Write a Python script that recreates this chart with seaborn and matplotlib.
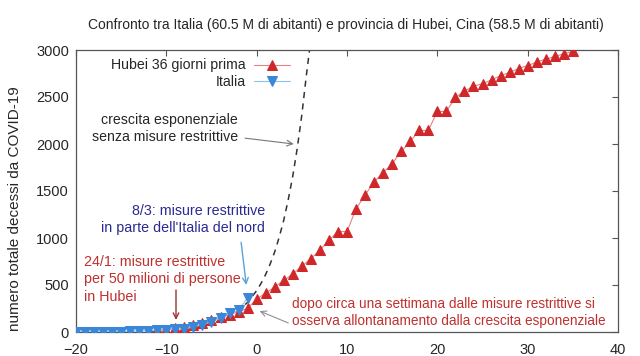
import matplotlib
matplotlib.use("Agg")
import numpy as np
import pandas as pd
import seaborn as sns
from matplotlib import pyplot as plt

sns.set_style("white")
plt.rcParams['font.family'] = ['Liberation Sans', 'DejaVu Sans']

# giorni relativi (Italia: 0 = 9/3)
hubei_giorni = list(range(-11, 36))
hubei_decessi = [17, 24, 39, 52, 76, 100, 125, 162, 185, 215, 252,
                 350, 414, 479, 549, 618, 699, 780, 871, 974, 1068,
                 1068, 1310, 1457, 1596, 1696, 1789, 1921, 2029, 2144, 2144,
                 2346, 2346, 2495, 2563, 2615, 2641, 2682, 2727, 2761, 2803,
                 2834, 2871, 2902, 2931, 2959, 2986]

italia_giorni = list(range(-20, 0))
italia_decessi = [0, 0, 0, 1, 2, 3, 7, 10, 12, 17, 21, 29, 34, 52, 79, 107,
                  148, 197, 233, 366]

# curva esponenziale
exp_giorni = [-12, -10, -8, -6, -4, -3, -2, -1, 0, 0.5, 1, 1.5, 2, 2.5, 3,
              3.5, 4, 4.5, 5, 5.5, 5.85]
exp_decessi = [8, 16, 31, 61, 117, 163, 227, 316, 440, 520, 613, 725, 854,
               1010, 1190, 1410, 1660, 1960, 2310, 2730, 3000]

rosso = '#d0282a'
blu = '#3a86d8'

fig = plt.figure(figsize=(6.4, 3.56), dpi=100)
ax = fig.add_axes([76 / 640, 24 / 356, 542 / 640, 282 / 356])

sns.lineplot(x=exp_giorni, y=exp_decessi, ax=ax, color='#333333',
             linestyle=(0, (4, 3.5)), linewidth=1.1, zorder=2)
sns.lineplot(x=hubei_giorni, y=hubei_decessi, ax=ax, color='#e88080',
             linewidth=0.8, marker='^', markersize=7.5, markerfacecolor=rosso,
             markeredgecolor=rosso, label='Hubei 36 giorni prima', zorder=3)
sns.lineplot(x=italia_giorni, y=italia_decessi, ax=ax, color='#8ec0ea',
             linewidth=0.8, marker='v', markersize=7.5, markerfacecolor=blu,
             markeredgecolor=blu, label='Italia', zorder=4)

ax.set_xlim(-20, 40)
ax.set_ylim(0, 3000)
ax.set_xticks([-20, -10, 0, 10, 20, 30, 40])
ax.set_yticks([0, 500, 1000, 1500, 2000, 2500, 3000])
ax.tick_params(direction='in', length=4, top=True, right=True,
               labelsize=10.5, color='#555555', pad=5)
ax.tick_params(axis='x', pad=8)
for s in ax.spines.values():
    s.set_color('#555555')
    s.set_linewidth(0.9)

ax.set_ylabel('numero totale decessi da COVID-19', fontsize=11, labelpad=9)
ax.yaxis.set_label_coords(-0.1, 0.436)
fig.text(0.54, 0.93, 'Confronto tra Italia (60.5 M di abitanti) e provincia '
         'di Hubei, Cina (58.5 M di abitanti)', ha='center', va='center',
         fontsize=10)

ax.legend(loc='upper right', bbox_to_anchor=(0.405, 0.99), frameon=False,
          markerfirst=False, fontsize=10.2, handlelength=2.5,
          labelspacing=0.2, borderaxespad=0, handletextpad=0.6)

ax.annotate('crescita esponenziale\nsenza misure restrittive',
            xy=(4.1, 2000), xytext=(-2.1, 2165), ha='right', va='center',
            fontsize=10.2, linespacing=1.25,
            arrowprops=dict(arrowstyle='->', color='#777777', lw=0.8,
                            shrinkA=3, shrinkB=0))
ax.annotate('8/3: misure restrittive\nin parte dell\'Italia del nord',
            xy=(-1.15, 500), xytext=(0.9, 1200), ha='right', va='center',
            fontsize=10.3, color='#2a2a90', linespacing=1.3,
            arrowprops=dict(arrowstyle='->', color='#5ba3d9', lw=1,
                            relpos=(0.85, 0), shrinkA=3, shrinkB=0))
ax.annotate('24/1: misure restrittive\nper 50 milioni di persone\nin Hubei',
            xy=(-8.93, 128), xytext=(-19.1, 560), ha='left', va='center',
            fontsize=10.3, color='#c0302e', linespacing=1.3)
ax.annotate('', xy=(-8.93, 128), xytext=(-8.93, 447),
            arrowprops=dict(arrowstyle='->', color='#a03030', lw=1,
                            shrinkA=0, shrinkB=0))
ax.annotate('dopo circa una settimana dalle misure restrittive si\n'
            'osserva allontanamento dalla crescita esponenziale',
            xy=(3.86, 210), ha='left', va='center', fontsize=9.8,
            color='#c0302e', linespacing=1.3)
ax.annotate('', xy=(0.33, 223), xytext=(3.5, 96),
            arrowprops=dict(arrowstyle='->', color='#9a8a9a', lw=0.8,
                            shrinkA=0, shrinkB=0))

fig.savefig('out.png', dpi=100)
